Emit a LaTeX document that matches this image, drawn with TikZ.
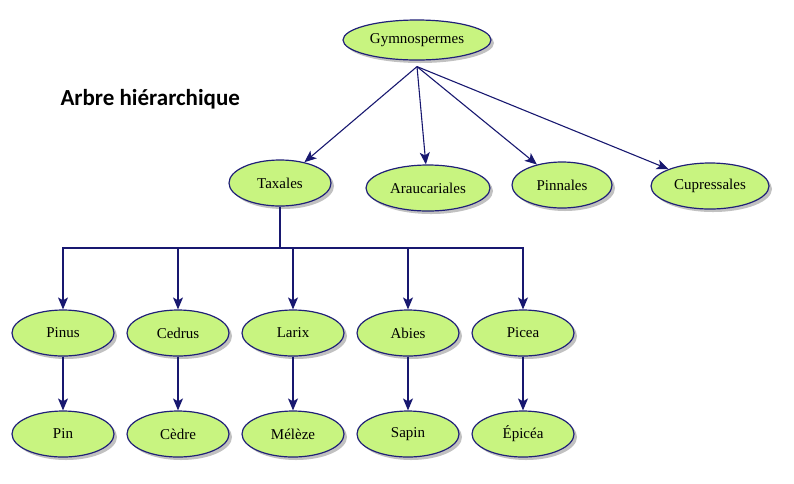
\documentclass[tikz,border=0pt]{standalone}
\usepackage{fontspec}
\setmainfont{Liberation Serif}
\newfontfamily\titrefont{Carlito}
\usetikzlibrary{shapes.geometric,shadows,arrows.meta}

\definecolor{feuille}{RGB}{200,244,128}
\definecolor{bord}{RGB}{32,32,120}
\definecolor{fleche}{RGB}{24,24,112}

\tikzset{
  taxon/.style={ellipse, draw=bord, line width=1.2pt, fill=feuille, inner sep=0pt,
    minimum width=102pt, minimum height=46pt, font=\fontsize{15}{17}\selectfont,
    drop shadow={shadow xshift=3pt, shadow yshift=-3pt, fill=gray!70, opacity=0.7}},
  lien/.style={draw=fleche, line width=1.1pt, -{Stealth[length=12pt,width=10pt,inset=3pt]}}
}

\begin{document}
\begin{tikzpicture}[x=1pt, y=-1pt]
  \useasboundingbox (0,0) rectangle (794,483);

  \node[taxon, minimum width=148pt, minimum height=40pt] (gym) at (417,40) {Gymnospermes};

  \node[taxon] (tax) at (280,183) {Taxales};
  \node[taxon, minimum width=124pt] (arau) at (428,188) {Araucariales};
  \node[taxon, minimum width=100pt] (pinn) at (562,185) {Pinnales};
  \node[taxon, minimum width=118pt] (cupr) at (710,186) {Cupressales};

  \node[font=\titrefont\bfseries\fontsize{23}{26}\selectfont, anchor=west] (titre) at (57,99) {Arbre hiérarchique};

  % genres et noms communs
  \foreach \x/\g/\n/\c in {63/pinus/Pinus/Pin, 178/cedrus/Cedrus/Cèdre, 293/larix/Larix/Mélèze,
      408/abies/Abies/Sapin, 523/picea/Picea/Épicéa} {
    \node[taxon] (\g) at (\x,333) {\n};
    \node[taxon] (\g-fr) at (\x,434) {\c};
    \draw[lien] (\g) -- (\g-fr);
  }

  \foreach \t in {tax,arau,pinn,cupr}
    \draw[lien] ([yshift=-6pt]gym.south) -- (\t);

  % branchement sous Taxales
  \coordinate (fourche) at (280,248);
  \draw[draw=fleche, line width=1.1pt] (tax) -- (fourche);
  \foreach \g in {pinus,cedrus,larix,abies,picea}
    \draw[lien] (fourche) -| (\g);
\end{tikzpicture}
\end{document}
